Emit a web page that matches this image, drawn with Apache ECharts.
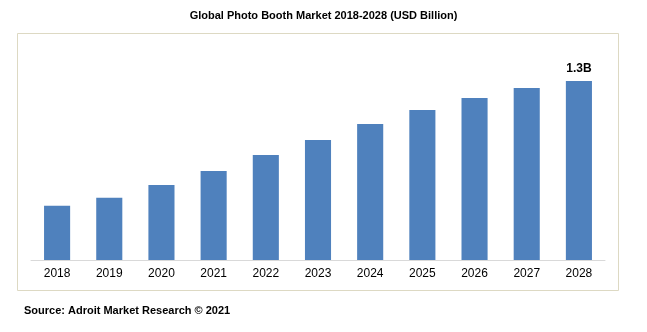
<!DOCTYPE html>
<html>
<head>
<meta charset="utf-8">
<script src="https://cdn.jsdelivr.net/npm/echarts@6/dist/echarts.min.js"></script>
<style>
html,body{margin:0;padding:0;background:#fff;}
#main{width:647px;height:332px;}
</style>
</head>
<body>
<div id="main"></div>
<script>
var titleText = 'Global Photo Booth Market 2018-2028 (USD Billion)';
var sourceText = 'Source: Adroit Market Research \u00a9 2021';
var years = ['2018','2019','2020','2021','2022','2023','2024','2025','2026','2027','2028'];
var marketValues = [0.394, 0.452, 0.545, 0.646, 0.763, 0.872, 0.988, 1.089, 1.177, 1.249, 1.3];
var labelledIndex = 10;
var labelText = '1.3B';

var chart = echarts.init(document.getElementById('main'), null, {renderer:'canvas'});
chart.setOption({
  animation: false,
  backgroundColor: '#fff',
  title: {
    text: titleText,
    left: 'center',
    top: 5,
    textStyle: {fontFamily: 'Liberation Sans, Arial', fontSize: 11, fontWeight: 'bold', color: '#000'}
  },
  graphic: [
    {type:'rect', shape:{x:17.5, y:33.5, width:601, height:257}, style:{fill:'none', stroke:'#ddd9c3', lineWidth:1}, silent:true},
    {type:'text', left:24, top:305, style:{text: sourceText, fontFamily:'Liberation Sans, Arial', fontSize:11, fontWeight:'bold', fill:'#000'}}
  ],
  grid: {left: 31, right: 42, top: 81, bottom: 72, containLabel: false},
  xAxis: {
    type: 'category',
    data: years,
    axisLine: {show:true, lineStyle:{color:'#d9d9d9', width:1}},
    axisTick: {show:false},
    axisLabel: {color:'#000', fontFamily:'Liberation Sans, Arial', fontSize:12, margin:8}
  },
  yAxis: {
    type: 'value', min: 0, max: 1.3,
    show: false,
    splitLine: {show:false}
  },
  series: [{
    type: 'bar',
    data: marketValues.map(function(v, i){
      return i === labelledIndex ? {value: v, label: {show:true, formatter: labelText}} : v;
    }),
    barWidth: '50%',
    itemStyle: {color: '#4f81bd'},
    label: {show:false, position:'top', distance:6, color:'#000', fontFamily:'Liberation Sans, Arial', fontSize:12, fontWeight:'bold'}
  }]
});
</script>
</body>
</html>
